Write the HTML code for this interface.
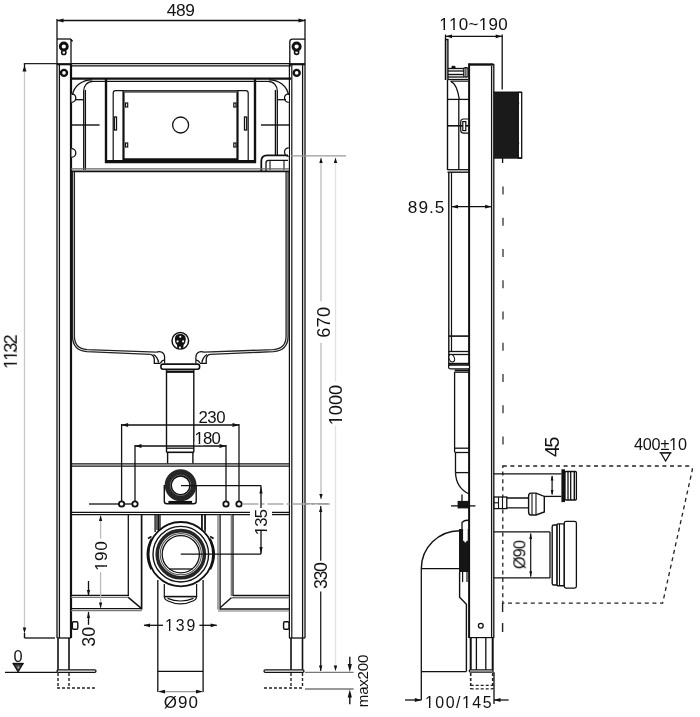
<!DOCTYPE html>
<html><head><meta charset="utf-8"><style>
html,body{margin:0;padding:0;background:#fff;}
svg{display:block;}
text{font-family:"Liberation Sans",sans-serif;}
</style></head><body>
<svg width="700" height="717" viewBox="0 0 700 717">
<rect width="700" height="717" fill="#fff"/>
<line x1="57" y1="19" x2="57" y2="39" stroke="#111" stroke-width="1.3" />
<line x1="305" y1="19" x2="305" y2="39" stroke="#111" stroke-width="1.3" />
<line x1="57" y1="20.5" x2="305" y2="20.5" stroke="#111" stroke-width="1.3" />
<polygon points="57,20.5 63.5,18.6 63.5,22.4" fill="#111"/>
<polygon points="305,20.5 298.5,18.6 298.5,22.4" fill="#111"/>
<line x1="23.8" y1="63.7" x2="57" y2="63.7" stroke="#222" stroke-width="1.3" />
<line x1="24.5" y1="71" x2="24.5" y2="630" stroke="#c8c8c8" stroke-width="1.3" />
<line x1="24.5" y1="63.7" x2="24.5" y2="70" stroke="#111" stroke-width="1.3" />
<polygon points="24.5,65.5 22.5,71.5 26.5,71.5" fill="#111"/>
<polygon points="24.5,633.5 22.8,627.5 26.2,627.5" fill="#111"/>
<line x1="24.5" y1="633" x2="24.5" y2="638" stroke="#111" stroke-width="1.4000000000000001" />
<line x1="24.5" y1="638" x2="55" y2="638" stroke="#222" stroke-width="1.4000000000000001" />
<line x1="57" y1="39" x2="71" y2="39" stroke="#111" stroke-width="1.3" />
<line x1="71" y1="39" x2="71" y2="64" stroke="#111" stroke-width="1.3" />
<line x1="71" y1="39.5" x2="72.5" y2="41.5" stroke="#111" stroke-width="1.4" />
<line x1="57" y1="64.2" x2="71" y2="64.2" stroke="#111" stroke-width="2.2" />
<circle cx="63.8" cy="52.4" r="2.1" stroke="#111" stroke-width="1.6" fill="#fff"/>
<circle cx="63.8" cy="46.5" r="3.5" stroke="#111" stroke-width="2.8" fill="#fff"/>
<circle cx="64" cy="72.9" r="3.0" stroke="#111" stroke-width="2.4" fill="none"/>
<path d="M289.8,64 L289.8,42 Q289.8,39.2 292.6,39.2 L305,39.2" stroke="#111" stroke-width="1.3" fill="none" />
<line x1="289.8" y1="64.2" x2="305" y2="64.2" stroke="#111" stroke-width="2.2" />
<circle cx="296.6" cy="52.3" r="2.1" stroke="#111" stroke-width="1.6" fill="#fff"/>
<circle cx="296.6" cy="46.6" r="3.6" stroke="#111" stroke-width="2.9" fill="#fff"/>
<circle cx="296.7" cy="72.9" r="3.0" stroke="#111" stroke-width="2.4" fill="none"/>
<line x1="57" y1="39" x2="57" y2="638" stroke="#111" stroke-width="1.3" />
<line x1="59.4" y1="64" x2="59.4" y2="638" stroke="#111" stroke-width="1.3" />
<line x1="71" y1="64" x2="71" y2="638" stroke="#111" stroke-width="2.2" />
<line x1="305" y1="39" x2="305" y2="638" stroke="#111" stroke-width="1.3" />
<line x1="302.6" y1="64" x2="302.6" y2="638" stroke="#111" stroke-width="1.3" />
<line x1="289.4" y1="64" x2="289.4" y2="638" stroke="#111" stroke-width="1.2" />
<line x1="291.8" y1="64" x2="291.8" y2="638" stroke="#111" stroke-width="1.2" />
<path d="M71.5,93.8 A4.3,4.3 0 0 1 71.5,102.4" stroke="#111" stroke-width="1.3" fill="#fff" />
<path d="M71.5,148.6 A4.3,4.3 0 0 1 71.5,157.2" stroke="#111" stroke-width="1.3" fill="#fff" />
<path d="M288.8,93.8 A4.3,4.3 0 0 0 288.8,102.4" stroke="#111" stroke-width="1.3" fill="#fff" />
<path d="M288.8,147.8 A4.3,4.3 0 0 0 288.8,156.4" stroke="#111" stroke-width="1.3" fill="#fff" />
<line x1="71" y1="63.7" x2="291" y2="63.7" stroke="#111" stroke-width="1.2" />
<line x1="71" y1="65.8" x2="291" y2="65.8" stroke="#111" stroke-width="1.2" />
<line x1="71" y1="78.6" x2="291" y2="78.6" stroke="#111" stroke-width="2.2" />
<line x1="92" y1="81.4" x2="106" y2="81.4" stroke="#111" stroke-width="1.2" />
<line x1="106" y1="81.4" x2="255" y2="81.4" stroke="#111" stroke-width="1.2" />
<line x1="255" y1="81.4" x2="268" y2="81.4" stroke="#111" stroke-width="1.2" />
<line x1="106" y1="78" x2="106" y2="163" stroke="#111" stroke-width="2.4" />
<line x1="255" y1="78" x2="255" y2="163" stroke="#111" stroke-width="2.4" />
<line x1="105" y1="161.7" x2="256" y2="161.7" stroke="#111" stroke-width="3.2" />
<path d="M113.2,161 L113.2,93 Q113.2,90.6 115.6,90.6 L245.8,90.6 Q248.2,90.6 248.2,93 L248.2,161" stroke="#111" stroke-width="1.2" fill="none" />
<line x1="123.5" y1="90.6" x2="123.5" y2="160" stroke="#111" stroke-width="2.2" />
<line x1="237.5" y1="90.6" x2="237.5" y2="160" stroke="#111" stroke-width="2.2" />
<line x1="123.5" y1="91.6" x2="237.5" y2="91.6" stroke="#555" stroke-width="2.4" />
<line x1="123" y1="159.6" x2="238" y2="159.6" stroke="#111" stroke-width="2.6" />
<rect x="125.5" y="103" width="2.2" height="4" rx="0" stroke="#111" stroke-width="1.2" fill="none"/>
<rect x="125.5" y="143" width="2.2" height="4" rx="0" stroke="#111" stroke-width="1.2" fill="none"/>
<rect x="233.8" y="103" width="2.2" height="4" rx="0" stroke="#111" stroke-width="1.2" fill="none"/>
<rect x="233.8" y="143" width="2.2" height="4" rx="0" stroke="#111" stroke-width="1.2" fill="none"/>
<rect x="114.3" y="117" width="2.2" height="13" rx="0" stroke="#111" stroke-width="1.3" fill="#fff"/>
<rect x="244.5" y="117" width="2.2" height="13" rx="0" stroke="#111" stroke-width="1.3" fill="#fff"/>
<circle cx="180.6" cy="125" r="8" stroke="#111" stroke-width="1.3" fill="none"/>
<path d="M92,79.8 C82,79.8 74,86 72.5,95" stroke="#111" stroke-width="1.3" fill="none" />
<path d="M93,81.4 C87,81.4 83.7,86 83.7,91 L83.7,170" stroke="#111" stroke-width="1.3" fill="none" />
<line x1="85.4" y1="90" x2="85.4" y2="170" stroke="#111" stroke-width="1.3" />
<line x1="75" y1="99.7" x2="83.7" y2="99.7" stroke="#111" stroke-width="1.3" />
<line x1="72" y1="125" x2="99.6" y2="125" stroke="#111" stroke-width="1.4" />
<path d="M269,79.8 C279,79.8 287,86 288.5,95" stroke="#111" stroke-width="1.3" fill="none" />
<path d="M268,81.4 C274,81.4 277.3,86 277.3,91 L277.3,155.4" stroke="#111" stroke-width="1.3" fill="none" />
<line x1="275.4" y1="90" x2="275.4" y2="155.4" stroke="#111" stroke-width="1.3" />
<line x1="277.3" y1="99.7" x2="286" y2="99.7" stroke="#111" stroke-width="1.3" />
<line x1="261" y1="125" x2="289" y2="125" stroke="#111" stroke-width="1.4" />
<path d="M261.3,171 L261.3,161 Q261.3,155.4 267,155.4 L288,155.4" stroke="#111" stroke-width="1.8" fill="none" />
<path d="M266,171 L266,163 Q266,160.4 268.5,160.4 L288,160.4" stroke="#111" stroke-width="1.3" fill="none" />
<line x1="270" y1="160.4" x2="270" y2="170" stroke="#111" stroke-width="1.1" />
<line x1="284" y1="160.4" x2="284" y2="170" stroke="#111" stroke-width="1.1" />
<line x1="71" y1="168.9" x2="289" y2="168.9" stroke="#666" stroke-width="1.3" />
<line x1="71" y1="171.4" x2="289" y2="171.4" stroke="#111" stroke-width="1.6" />
<path d="M72.5,171.4 L72.5,336 Q72.5,350.5 87,351.7 L150.4,354.3" stroke="#222" stroke-width="1.3" fill="none" />
<path d="M74.4,171.4 L74.4,336.3 Q74.4,348.6 87,349.6 L156.5,352.1" stroke="#222" stroke-width="1.3" fill="none" />
<path d="M288.1,171.4 L288.1,336 Q288.1,350.5 273.5,351.7 L210.1,354.3" stroke="#222" stroke-width="1.3" fill="none" />
<path d="M286.1,171.4 L286.1,336.3 Q286.1,348.6 273.5,349.6 L204,352.1" stroke="#222" stroke-width="1.3" fill="none" />
<path d="M150.4,354.3 Q154.3,355.3 154.3,359.5 L154.3,363.4 L160.5,363.4" stroke="#111" stroke-width="1.3" fill="none" />
<path d="M153.4,354.5 Q157.6,356.8 158.6,362.6" stroke="#111" stroke-width="1.4000000000000001" fill="none" />
<path d="M156.5,352.1 Q159.5,351.2 162,352.2 Q164.6,353.8 164.6,357 L164.6,363.2" stroke="#111" stroke-width="1.2" fill="none" />
<path d="M160.5,363 Q161.5,360.5 164.4,359.8" stroke="#111" stroke-width="1.3" fill="none" />
<g transform="translate(360.5,0) scale(-1,1)">
<path d="M150.4,354.3 Q154.3,355.3 154.3,359.5 L154.3,363.4 L160.5,363.4" stroke="#111" stroke-width="1.3" fill="none" />
<path d="M153.4,354.5 Q157.6,356.8 158.6,362.6" stroke="#111" stroke-width="1.4000000000000001" fill="none" />
<path d="M156.5,352.1 Q159.5,351.2 162,352.2 Q164.6,353.8 164.6,357 L164.6,363.2" stroke="#111" stroke-width="1.2" fill="none" />
<path d="M160.5,363 Q161.5,360.5 164.4,359.8" stroke="#111" stroke-width="1.3" fill="none" />
</g>
<circle cx="180.3" cy="340.8" r="8.3" stroke="#111" stroke-width="1.5" fill="none"/>
<path d="M174.8,339 Q175,334 180.3,334 Q185.6,334 185.8,339 Q185.8,343 183.6,345 L183.2,349 L177.4,349 L177,345 Q174.8,343 174.8,339 Z" stroke="#111" stroke-width="0" fill="#111" />
<circle cx="180.3" cy="336.8" r="1.05" stroke="#fff" stroke-width="0" fill="#fff"/>
<circle cx="177.6" cy="341.4" r="1.05" stroke="#fff" stroke-width="0" fill="#fff"/>
<circle cx="183.1" cy="341.4" r="1.05" stroke="#fff" stroke-width="0" fill="#fff"/>
<circle cx="180" cy="347.6" r="1.05" stroke="#fff" stroke-width="0" fill="#fff"/>
<rect x="160.9" y="364.1" width="38.7" height="5.2" rx="2.2" stroke="#111" stroke-width="1.6" fill="#fff"/>
<line x1="166.5" y1="371.7" x2="193.8" y2="371.7" stroke="#111" stroke-width="2.4" />
<line x1="166.5" y1="370" x2="166.5" y2="452.3" stroke="#111" stroke-width="1.4000000000000001" />
<line x1="193.8" y1="370" x2="193.8" y2="452.3" stroke="#111" stroke-width="1.4000000000000001" />
<line x1="166.5" y1="448.2" x2="193.8" y2="448.2" stroke="#111" stroke-width="1.3" />
<line x1="166.5" y1="452.3" x2="193.8" y2="452.3" stroke="#111" stroke-width="1.6" />
<line x1="167.6" y1="452.3" x2="167.6" y2="463.4" stroke="#111" stroke-width="1.4000000000000001" />
<line x1="192.9" y1="452.3" x2="192.9" y2="463.4" stroke="#111" stroke-width="1.4000000000000001" />
<line x1="121.6" y1="425" x2="239" y2="425" stroke="#111" stroke-width="1.3" />
<polygon points="121.6,425 128.1,423.1 128.1,426.9" fill="#111"/>
<polygon points="239,425 232.5,423.1 232.5,426.9" fill="#111"/>
<line x1="121.6" y1="424" x2="121.6" y2="501" stroke="#111" stroke-width="1.3" />
<line x1="239" y1="424" x2="239" y2="501" stroke="#111" stroke-width="1.3" />
<line x1="135" y1="446" x2="226" y2="446" stroke="#111" stroke-width="1.3" />
<polygon points="135,446 141.5,444.1 141.5,447.9" fill="#111"/>
<polygon points="226,446 219.5,444.1 219.5,447.9" fill="#111"/>
<line x1="135" y1="445" x2="135" y2="501" stroke="#111" stroke-width="1.3" />
<line x1="226" y1="445" x2="226" y2="501" stroke="#111" stroke-width="1.3" />
<line x1="71" y1="463.8" x2="289" y2="463.8" stroke="#111" stroke-width="1.3" />
<line x1="71" y1="466.2" x2="289" y2="466.2" stroke="#111" stroke-width="1.3" />
<circle cx="121.6" cy="504" r="2.7" stroke="#111" stroke-width="1.8" fill="#fff"/>
<circle cx="135" cy="504" r="2.7" stroke="#111" stroke-width="1.8" fill="#fff"/>
<circle cx="226" cy="504" r="2.7" stroke="#111" stroke-width="1.8" fill="#fff"/>
<circle cx="239" cy="504" r="2.7" stroke="#111" stroke-width="1.8" fill="#fff"/>
<line x1="89" y1="504" x2="118.8" y2="504" stroke="#111" stroke-width="1.3" />
<line x1="124.4" y1="504" x2="132.2" y2="504" stroke="#111" stroke-width="1.3" />
<line x1="242.5" y1="504" x2="330" y2="504" stroke="#aaa" stroke-width="1.3" stroke-dasharray="16,3,3,3"/>
<path d="M164.3,485 L164.3,501.3 Q164.3,503.8 166.8,503.8 L193.7,503.8 Q196.2,503.8 196.2,501.3 L196.2,485" stroke="#111" stroke-width="1.4000000000000001" fill="none" />
<line x1="168.4" y1="502" x2="192.1" y2="502" stroke="#111" stroke-width="2.2" />
<circle cx="180.6" cy="485.3" r="12.5" stroke="#262626" stroke-width="6.9" fill="none"/>
<circle cx="180.6" cy="485.3" r="10.2" stroke="#777" stroke-width="1.0" fill="none"/>
<circle cx="180.6" cy="485.3" r="9.3" stroke="#111" stroke-width="1.3" fill="none"/>
<line x1="181" y1="485.6" x2="261" y2="485.6" stroke="#111" stroke-width="1.3" />
<line x1="261" y1="485.6" x2="261" y2="508" stroke="#111" stroke-width="1.3" />
<polygon points="261,486.5 259.4,493.5 262.6,493.5" fill="#111"/>
<line x1="261" y1="531" x2="261" y2="554" stroke="#111" stroke-width="1.3" />
<polygon points="261,554 259.4,547 262.6,547" fill="#111"/>
<line x1="71" y1="512.4" x2="250" y2="512.4" stroke="#111" stroke-width="1.3" />
<line x1="71" y1="514.6" x2="250" y2="514.6" stroke="#111" stroke-width="1.3" />
<line x1="272" y1="512.4" x2="289" y2="512.4" stroke="#111" stroke-width="1.3" />
<line x1="272" y1="514.6" x2="289" y2="514.6" stroke="#111" stroke-width="1.3" />
<line x1="128.3" y1="514.6" x2="128.3" y2="596.3" stroke="#111" stroke-width="1.3" />
<line x1="141.6" y1="514.6" x2="141.6" y2="609.5" stroke="#111" stroke-width="1.7" />
<line x1="71" y1="595.3" x2="128.3" y2="595.3" stroke="#111" stroke-width="1.3" />
<line x1="71" y1="597.4" x2="128.3" y2="597.4" stroke="#777" stroke-width="1.4000000000000001" />
<line x1="128.3" y1="597.4" x2="141.6" y2="608.6" stroke="#111" stroke-width="1.4000000000000001" />
<line x1="71" y1="608.6" x2="141.6" y2="608.6" stroke="#111" stroke-width="1.3" />
<line x1="71" y1="610.7" x2="141.6" y2="610.7" stroke="#777" stroke-width="1.2" />
<line x1="218" y1="514.6" x2="218" y2="609.8" stroke="#777" stroke-width="1.3" />
<line x1="220.1" y1="514.6" x2="220.1" y2="609.8" stroke="#111" stroke-width="1.3" />
<line x1="231.3" y1="514.6" x2="231.3" y2="596.1" stroke="#777" stroke-width="1.3" />
<line x1="233" y1="514.6" x2="233" y2="596.1" stroke="#111" stroke-width="1.3" />
<line x1="233" y1="595.5" x2="289.4" y2="595.5" stroke="#111" stroke-width="1.3" />
<line x1="231.3" y1="597.8" x2="289.4" y2="597.8" stroke="#777" stroke-width="1.4000000000000001" />
<line x1="231.3" y1="597.8" x2="220.1" y2="607.7" stroke="#111" stroke-width="1.4000000000000001" />
<line x1="220.1" y1="609" x2="289.4" y2="609" stroke="#111" stroke-width="1.3" />
<line x1="218" y1="611" x2="289.4" y2="611" stroke="#777" stroke-width="1.2" />
<line x1="157" y1="514.6" x2="157" y2="530" stroke="#111" stroke-width="1.3" />
<line x1="160" y1="514.6" x2="160" y2="530" stroke="#111" stroke-width="1.3" />
<line x1="202" y1="514.6" x2="202" y2="530" stroke="#111" stroke-width="1.3" />
<line x1="205" y1="514.6" x2="205" y2="530" stroke="#111" stroke-width="1.3" />
<line x1="155.1" y1="514.6" x2="155.1" y2="532" stroke="#111" stroke-width="1.3" />
<line x1="158.5" y1="514.6" x2="158.5" y2="532" stroke="#111" stroke-width="1.3" />
<line x1="201.8" y1="514.6" x2="201.8" y2="532" stroke="#111" stroke-width="1.3" />
<line x1="205.1" y1="514.6" x2="205.1" y2="532" stroke="#111" stroke-width="1.3" />
<path d="M151.75,538.75 A32.9,32.9 0 0 0 151.49,569.14 M209.85,538.75 A32.9,32.9 0 0 1 210.11,569.14" stroke="#111" stroke-width="2.2" fill="none" />
<path d="M148,538.5 L151.5,536.5 M213.6,538.5 L210.1,536.5" stroke="#111" stroke-width="1.6" fill="none" />
<circle cx="180.8" cy="554.2" r="32.2" stroke="#111" stroke-width="1.8" fill="#fff"/>
<circle cx="180.8" cy="554.2" r="27.8" stroke="#111" stroke-width="1.4000000000000001" fill="none"/>
<circle cx="180.8" cy="554.2" r="23.6" stroke="#262626" stroke-width="3.6" fill="none"/>
<circle cx="180.8" cy="554.2" r="20.6" stroke="#555" stroke-width="1.1" fill="none"/>
<circle cx="180.8" cy="554.2" r="18.6" stroke="#111" stroke-width="1.3" fill="none"/>
<line x1="169" y1="569" x2="192.6" y2="569" stroke="#111" stroke-width="1.3" />
<line x1="180.8" y1="554.2" x2="261" y2="554.2" stroke="#111" stroke-width="1.3" />
<path d="M164.3,584 L164.3,597 M196.6,584 L196.6,597" stroke="#111" stroke-width="1.2" fill="none" />
<line x1="165" y1="596.6" x2="196" y2="596.6" stroke="#111" stroke-width="1.6" />
<path d="M164.3,596.6 Q164.3,599.6 168,601 Q180.5,606.8 193,601 Q196.6,599.6 196.6,596.6" stroke="#111" stroke-width="1.2" fill="none" />
<path d="M167.5,598.4 Q180.5,603.6 193.5,598.4" stroke="#111" stroke-width="1.2" fill="none" />
<line x1="157.8" y1="580" x2="157.8" y2="692" stroke="#111" stroke-width="1.3" />
<line x1="203.1" y1="580" x2="203.1" y2="692" stroke="#111" stroke-width="1.3" />
<line x1="100.6" y1="515" x2="100.6" y2="538.7" stroke="#bbb" stroke-width="1.3" />
<line x1="100.6" y1="572.2" x2="100.6" y2="608" stroke="#bbb" stroke-width="1.3" />
<polygon points="100.6,515 99.0,521 102.19999999999999,521" fill="#111"/>
<polygon points="100.6,608.6 99.0,602.6 102.19999999999999,602.6" fill="#111"/>
<line x1="88.5" y1="581" x2="88.5" y2="596" stroke="#111" stroke-width="1.3" />
<polygon points="88.5,596 86.9,590 90.1,590" fill="#111"/>
<line x1="88.5" y1="611.9" x2="88.5" y2="624.8" stroke="#111" stroke-width="1.3" />
<polygon points="88.5,611.9 86.9,617.9 90.1,617.9" fill="#111"/>
<rect x="72.4" y="621.8" width="5.4" height="7.4" rx="1.2" stroke="#111" stroke-width="1.4000000000000001" fill="#fff"/>
<rect x="283.6" y="621.8" width="5.4" height="7.4" rx="1.2" stroke="#111" stroke-width="1.4000000000000001" fill="#fff"/>
<line x1="58" y1="638" x2="58" y2="670" stroke="#111" stroke-width="1.6" />
<line x1="69" y1="638" x2="69" y2="670" stroke="#111" stroke-width="1.6" />
<line x1="57" y1="638" x2="71" y2="638" stroke="#111" stroke-width="1.3" />
<line x1="291" y1="638" x2="291" y2="670" stroke="#111" stroke-width="1.6" />
<line x1="302.5" y1="638" x2="302.5" y2="670" stroke="#111" stroke-width="1.6" />
<line x1="289" y1="638" x2="305" y2="638" stroke="#111" stroke-width="1.3" />
<rect x="57" y="669.8" width="39" height="2.6" rx="1.3" stroke="#111" stroke-width="1.3" fill="#fff"/>
<rect x="264" y="669.8" width="40" height="2.6" rx="1.3" stroke="#111" stroke-width="1.3" fill="#fff"/>
<line x1="58" y1="673" x2="58" y2="688" stroke="#222" stroke-width="1.4" stroke-dasharray="3,2"/>
<line x1="69" y1="673" x2="69" y2="688" stroke="#222" stroke-width="1.4" stroke-dasharray="3,2"/>
<line x1="291" y1="673" x2="291" y2="688" stroke="#222" stroke-width="1.4" stroke-dasharray="3,2"/>
<line x1="302.5" y1="673" x2="302.5" y2="688" stroke="#222" stroke-width="1.4" stroke-dasharray="3,2"/>
<line x1="57" y1="688" x2="96" y2="688" stroke="#222" stroke-width="1.4" stroke-dasharray="3,2"/>
<line x1="264" y1="688" x2="304" y2="688" stroke="#222" stroke-width="1.4" stroke-dasharray="3,2"/>
<line x1="5" y1="672.4" x2="57" y2="672.4" stroke="#111" stroke-width="1.3" />
<path d="M13.3,663.6 L22.9,663.6 L18.1,671.8 Z" stroke="#111" stroke-width="1.3" fill="#444" />
<line x1="12.9" y1="663.6" x2="23.3" y2="663.6" stroke="#111" stroke-width="1.6" />
<circle cx="18.4" cy="667.5" r="1.0" stroke="#fff" stroke-width="0" fill="#bbb"/>
<line x1="157.8" y1="671.4" x2="203.1" y2="671.4" stroke="#111" stroke-width="1.2" />
<line x1="157.8" y1="691.6" x2="203.1" y2="691.6" stroke="#999" stroke-width="1.2" />
<polygon points="158,691.6 165,689.8000000000001 165,693.4" fill="#111"/>
<polygon points="203,691.6 196,689.8000000000001 196,693.4" fill="#111"/>
<line x1="144" y1="625.3" x2="163" y2="625.3" stroke="#111" stroke-width="1.3" />
<line x1="199.4" y1="625.3" x2="216.8" y2="625.3" stroke="#111" stroke-width="1.3" />
<polygon points="143.5,625.3 150.0,623.4 150.0,627.1999999999999" fill="#111"/>
<polygon points="217.2,625.3 210.7,623.4 210.7,627.1999999999999" fill="#111"/>
<line x1="291" y1="155.9" x2="346" y2="155.9" stroke="#999" stroke-width="1.3" />
<line x1="321" y1="158" x2="321" y2="301.3" stroke="#bbb" stroke-width="1.3" />
<line x1="321" y1="342.8" x2="321" y2="499" stroke="#bbb" stroke-width="1.3" />
<polygon points="321,157.5 319.3,163.0 322.7,163.0" fill="#111"/>
<polygon points="321,499.6 319.3,494.1 322.7,494.1" fill="#111"/>
<line x1="335.5" y1="158" x2="335.5" y2="381.7" stroke="#e2e2e2" stroke-width="1.3" />
<line x1="335.5" y1="425.7" x2="335.5" y2="671" stroke="#e2e2e2" stroke-width="1.3" />
<polygon points="335.5,157.5 333.8,163.0 337.2,163.0" fill="#111"/>
<polygon points="335.5,671 333.8,665.5 337.2,665.5" fill="#111"/>
<line x1="305" y1="503.8" x2="328" y2="503.8" stroke="#999" stroke-width="1.3" />
<line x1="320.7" y1="506" x2="320.7" y2="560.7" stroke="#222" stroke-width="1.3" />
<line x1="320.7" y1="591.4" x2="320.7" y2="671" stroke="#222" stroke-width="1.3" />
<polygon points="320.7,506.5 319.0,512.0 322.4,512.0" fill="#111"/>
<polygon points="320.7,671 319.0,665.5 322.4,665.5" fill="#111"/>
<line x1="305" y1="672.3" x2="353.6" y2="672.3" stroke="#777" stroke-width="1.3" />
<line x1="305" y1="689" x2="353.6" y2="689" stroke="#777" stroke-width="1.3" />
<line x1="349.8" y1="656.7" x2="349.8" y2="668" stroke="#111" stroke-width="1.4000000000000001" />
<polygon points="349.8,672 347.7,664 351.90000000000003,664" fill="#111"/>
<line x1="349.8" y1="693" x2="349.8" y2="704.3" stroke="#111" stroke-width="1.4000000000000001" />
<polygon points="349.8,689.4 347.7,697.4 351.90000000000003,697.4" fill="#111"/>
<line x1="445.5" y1="34.5" x2="445.5" y2="80" stroke="#111" stroke-width="1.3" />
<line x1="502.2" y1="34.5" x2="502.2" y2="89.5" stroke="#111" stroke-width="1.3" />
<line x1="445.5" y1="36.3" x2="502.2" y2="36.3" stroke="#111" stroke-width="1.3" />
<polygon points="445.5,36.3 452.0,34.4 452.0,38.199999999999996" fill="#111"/>
<polygon points="502.2,36.3 495.7,34.4 495.7,38.199999999999996" fill="#111"/>
<path d="M445.6,80 L445.6,39.5 L447.9,39.5 L447.9,80" stroke="#111" stroke-width="1.4000000000000001" fill="none" />
<line x1="468.5" y1="64.5" x2="493.5" y2="64.5" stroke="#111" stroke-width="2.4" />
<line x1="469.1" y1="63.5" x2="469.1" y2="638" stroke="#111" stroke-width="2.0" />
<line x1="491.6" y1="66" x2="491.6" y2="638" stroke="#111" stroke-width="1.3" />
<line x1="493.8" y1="64" x2="493.8" y2="638" stroke="#111" stroke-width="1.3" />
<line x1="447.9" y1="68.5" x2="464" y2="68.5" stroke="#111" stroke-width="1.3" />
<line x1="447.9" y1="71" x2="464" y2="71" stroke="#111" stroke-width="1.3" />
<line x1="447.9" y1="74.5" x2="464" y2="74.5" stroke="#111" stroke-width="1.4" />
<line x1="447.9" y1="77" x2="464" y2="77" stroke="#111" stroke-width="1.3" />
<rect x="463.8" y="67.6" width="4.2" height="9.6" rx="1.5" stroke="#111" stroke-width="1.3" fill="#fff"/>
<line x1="465.9" y1="68" x2="465.9" y2="77" stroke="#111" stroke-width="1.1" />
<rect x="452" y="66.2" width="3" height="2" rx="0.8" stroke="#111" stroke-width="1.1" fill="#111"/>
<line x1="447.9" y1="79.5" x2="468" y2="79.5" stroke="#111" stroke-width="1.3" />
<line x1="451" y1="81.2" x2="468" y2="81.2" stroke="#111" stroke-width="1.1" />
<path d="M450.5,81.2 Q457,84 459.3,99.4" stroke="#111" stroke-width="1.3" fill="none" />
<line x1="447.5" y1="80" x2="447.5" y2="170" stroke="#111" stroke-width="1.4000000000000001" />
<line x1="458.8" y1="99.4" x2="458.8" y2="170" stroke="#111" stroke-width="1.3" />
<line x1="447.5" y1="99.4" x2="469" y2="99.4" stroke="#111" stroke-width="1.3" />
<line x1="447.5" y1="125.8" x2="469" y2="125.8" stroke="#111" stroke-width="1.6" />
<path d="M469,119 L463.5,119 Q460.7,119 460.7,122 L460.7,130 Q460.7,133.2 463.5,133.2 L469,133.2" stroke="#111" stroke-width="1.2" fill="none" />
<rect x="462.8" y="121.6" width="3" height="9" rx="0" stroke="#111" stroke-width="1.2" fill="#fff"/>
<line x1="447.5" y1="169.7" x2="469" y2="169.7" stroke="#111" stroke-width="1.3" />
<line x1="447.5" y1="172.2" x2="469" y2="172.2" stroke="#111" stroke-width="1.4" />
<rect x="493.8" y="91.9" width="24.5" height="66" rx="0" stroke="#111" stroke-width="0" fill="#1a1a1a"/>
<rect x="518.3" y="92.4" width="3.4" height="65.8" rx="0" stroke="#111" stroke-width="1.3" fill="#fff"/>
<line x1="493.8" y1="92.3" x2="521.7" y2="92.3" stroke="#111" stroke-width="1.4" />
<line x1="493.8" y1="158" x2="521.7" y2="158" stroke="#111" stroke-width="1.4" />
<path d="M518.3,100.5 Q520.2,103.5 518.3,106.5 Z M518.3,140.5 Q520.2,143.5 518.3,146.5 Z" stroke="#111" stroke-width="0" fill="#1a1a1a" />
<line x1="502.6" y1="158" x2="502.6" y2="163" stroke="#111" stroke-width="1.3" />
<line x1="448.8" y1="172.2" x2="448.8" y2="368" stroke="#111" stroke-width="1.4000000000000001" />
<line x1="451.5" y1="172.2" x2="451.5" y2="352" stroke="#111" stroke-width="1.2" />
<line x1="448.8" y1="336.1" x2="469" y2="336.1" stroke="#111" stroke-width="1.6" />
<line x1="448.8" y1="351.5" x2="469" y2="351.5" stroke="#111" stroke-width="1.3" />
<line x1="448.8" y1="354.5" x2="469" y2="354.5" stroke="#111" stroke-width="1.3" />
<ellipse cx="451.8" cy="358.2" rx="2.6" ry="3.8" stroke="#111" stroke-width="1" fill="#fff" transform="rotate(-20 451.8 358.2)"/>
<line x1="448.8" y1="363.8" x2="469" y2="363.8" stroke="#111" stroke-width="2.0" />
<rect x="448.6" y="365.2" width="21" height="3.6" rx="1.5" stroke="#111" stroke-width="1.2" fill="#fff"/>
<line x1="454.6" y1="370.4" x2="469" y2="370.4" stroke="#111" stroke-width="1.8" />
<line x1="454.6" y1="372.2" x2="469" y2="372.2" stroke="#111" stroke-width="1.3" />
<line x1="451.5" y1="206.7" x2="491.6" y2="206.7" stroke="#111" stroke-width="1.3" />
<polygon points="451.5,206.7 458.0,204.79999999999998 458.0,208.6" fill="#111"/>
<polygon points="491.6,206.7 485.1,204.79999999999998 485.1,208.6" fill="#111"/>
<line x1="454.6" y1="372" x2="454.6" y2="452" stroke="#111" stroke-width="1.3" />
<line x1="454.6" y1="448.2" x2="469" y2="448.2" stroke="#111" stroke-width="1.3" />
<line x1="454.6" y1="452.5" x2="469" y2="452.5" stroke="#111" stroke-width="1.3" />
<line x1="455.5" y1="452.5" x2="455.5" y2="472.6" stroke="#111" stroke-width="1.3" />
<line x1="455.5" y1="472.6" x2="469" y2="472.6" stroke="#111" stroke-width="1.3" />
<path d="M455.5,472.6 Q456,488 469,494" stroke="#111" stroke-width="1.3" fill="none" />
<rect x="457.6" y="500.9" width="11.4" height="7.5" rx="0" stroke="#111" stroke-width="0" fill="#151515"/>
<line x1="451" y1="505.9" x2="475.5" y2="505.9" stroke="#111" stroke-width="1.3" />
<line x1="462" y1="494.6" x2="462" y2="501" stroke="#111" stroke-width="1.3" />
<rect x="459" y="529" width="10.3" height="43" rx="0" stroke="#111" stroke-width="0" fill="#151515"/>
<rect x="463.6" y="529.5" width="3.6" height="11" rx="0" stroke="#fff" stroke-width="0.8999999999999999" fill="#fff"/>
<path d="M462,529 L462,522.5 Q465,519.5 469,520.5" stroke="#111" stroke-width="1.3" fill="none" />
<circle cx="465.3" cy="541.5" r="1" stroke="#fff" stroke-width="0" fill="#fff"/>
<line x1="462.6" y1="572" x2="462.6" y2="582" stroke="#111" stroke-width="1.2" />
<line x1="467" y1="572" x2="467" y2="582" stroke="#111" stroke-width="1.2" />
<path d="M421.3,568.7 A38.3,38 0 0 1 459.6,530.7" stroke="#111" stroke-width="1.4000000000000001" fill="none" />
<line x1="421.3" y1="568.7" x2="459.6" y2="568.7" stroke="#111" stroke-width="1.3" />
<line x1="421.3" y1="568.7" x2="421.3" y2="700" stroke="#111" stroke-width="1.3" />
<path d="M459.6,572 L459.6,597.2 L466.4,604.2 L466.4,671.6" stroke="#111" stroke-width="1.4000000000000001" fill="none" />
<line x1="421.3" y1="671.6" x2="466.4" y2="671.6" stroke="#111" stroke-width="1.3" />
<line x1="469" y1="637.6" x2="493.8" y2="637.6" stroke="#111" stroke-width="1.2" />
<circle cx="480.8" cy="625.7" r="2.4" stroke="#111" stroke-width="1.3" fill="none"/>
<line x1="470.7" y1="637.6" x2="470.7" y2="670" stroke="#111" stroke-width="2.0" />
<line x1="492.7" y1="637.6" x2="492.7" y2="670" stroke="#111" stroke-width="2.0" />
<line x1="476.4" y1="637.6" x2="476.4" y2="670" stroke="#111" stroke-width="1.3" />
<line x1="485.8" y1="637.6" x2="485.8" y2="670" stroke="#111" stroke-width="1.3" />
<rect x="469.2" y="669.8" width="24" height="2.4" rx="1.2" stroke="#111" stroke-width="1.2" fill="#fff"/>
<line x1="470.7" y1="673" x2="470.7" y2="689" stroke="#222" stroke-width="1.6" stroke-dasharray="3,2"/>
<line x1="492.7" y1="673" x2="492.7" y2="689" stroke="#222" stroke-width="1.6" stroke-dasharray="3,2"/>
<line x1="470.7" y1="685.4" x2="492.7" y2="685.4" stroke="#222" stroke-width="1.3" stroke-dasharray="3,2"/>
<line x1="470.7" y1="688.9" x2="492.7" y2="688.9" stroke="#222" stroke-width="1.3" stroke-dasharray="3,2"/>
<line x1="494" y1="672" x2="494" y2="704" stroke="#111" stroke-width="1.3" />
<line x1="405" y1="700" x2="421.3" y2="700" stroke="#111" stroke-width="1.3" />
<polygon points="421.3,700 414.8,698.1 414.8,701.9" fill="#111"/>
<line x1="494" y1="700" x2="508.6" y2="700" stroke="#111" stroke-width="1.3" />
<polygon points="494,700 500.5,698.1 500.5,701.9" fill="#111"/>
<line x1="503" y1="186.4" x2="503" y2="452" stroke="#222" stroke-width="1.2" stroke-dasharray="8,23.25"/>
<line x1="502.6" y1="603" x2="502.6" y2="640" stroke="#222" stroke-width="1.4000000000000001" stroke-dasharray="9,11" stroke-dashoffset="0"/>
<path d="M502.8,466 L688,466 Q691.5,466 692.4,469.5 L662.6,603.2 L502.8,603.2 Z" stroke="#222" stroke-width="1.3" fill="none" stroke-dasharray="4,3.6"/>
<path d="M661,453 L670.3,453 L665.6,461 Z" stroke="#111" stroke-width="1.2" fill="none" />
<line x1="659.5" y1="452.8" x2="671.5" y2="452.8" stroke="#111" stroke-width="1.2" />
<line x1="493.8" y1="473.9" x2="561.4" y2="473.9" stroke="#111" stroke-width="1.3" />
<line x1="544.3" y1="496.4" x2="561.4" y2="496.4" stroke="#111" stroke-width="1.3" />
<line x1="493.8" y1="531.9" x2="550" y2="531.9" stroke="#111" stroke-width="1.3" />
<line x1="493.8" y1="577.9" x2="550" y2="577.9" stroke="#111" stroke-width="1.3" />
<rect x="561.4" y="469.3" width="3.6" height="32.8" rx="0" stroke="#111" stroke-width="0" fill="#111"/>
<rect x="565" y="471.5" width="11.4" height="28.5" rx="1" stroke="#111" stroke-width="1.3" fill="#fff"/>
<line x1="568" y1="471.5" x2="568" y2="500" stroke="#111" stroke-width="1.3" />
<line x1="570.7" y1="471.5" x2="570.7" y2="500" stroke="#111" stroke-width="1.3" />
<line x1="574.3" y1="471.5" x2="574.3" y2="500" stroke="#111" stroke-width="1.4" />
<line x1="552.1" y1="476" x2="552.1" y2="494.5" stroke="#111" stroke-width="1.2" />
<polygon points="552.1,475.5 550.7,480.5 553.5,480.5" fill="#111"/>
<polygon points="552.1,495 550.7,490 553.5,490" fill="#111"/>
<rect x="494" y="497" width="12.8" height="11.6" rx="0" stroke="#111" stroke-width="1.3" fill="#fff"/>
<line x1="498.5" y1="497" x2="498.5" y2="508.6" stroke="#111" stroke-width="1.1" />
<line x1="502.5" y1="497" x2="502.5" y2="508.6" stroke="#111" stroke-width="1.1" />
<line x1="494" y1="502.8" x2="498.5" y2="502.8" stroke="#111" stroke-width="1.1" />
<path d="M506.8,498 L528.6,498 M506.8,507.9 L528.6,507.9" stroke="#111" stroke-width="1.3" fill="none" />
<path d="M528.6,496 Q528.6,493.1 531,493.1 L536,493.1 L544.3,496.4 L544.3,512 L536,515 L531,515 Q528.6,515 528.6,512 Z" stroke="#111" stroke-width="1.4000000000000001" fill="#fff" />
<line x1="532" y1="493.3" x2="532" y2="514.8" stroke="#111" stroke-width="1.1" />
<line x1="536" y1="493.3" x2="536" y2="514.8" stroke="#111" stroke-width="1.1" />
<line x1="550" y1="531.9" x2="550" y2="577.9" stroke="#111" stroke-width="1.3" />
<path d="M552.2,526.5 Q552.2,525 554,525 L557.1,525 L557.1,585 L554,585 Q552.2,585 552.2,583.5 Z" stroke="#111" stroke-width="1.4000000000000001" fill="#fff" />
<rect x="557.1" y="523.9" width="7.2" height="61.8" rx="0.8" stroke="#111" stroke-width="1.4000000000000001" fill="#fff"/>
<line x1="559.5" y1="524" x2="559.5" y2="585.6" stroke="#111" stroke-width="1.1" />
<rect x="564.3" y="521.4" width="12.1" height="66.7" rx="1.8" stroke="#111" stroke-width="1.3" fill="#fff"/>
<line x1="530.7" y1="533.5" x2="530.7" y2="576.5" stroke="#111" stroke-width="1.2" />
<polygon points="530.7,533 529.3000000000001,539 532.1,539" fill="#111"/>
<polygon points="530.7,577.3 529.3000000000001,571.3 532.1,571.3" fill="#111"/>
<g opacity="0.995"><g transform="translate(166.80,16.33)"><text x="0.00 9.18 18.36" y="0" font-size="17.37" fill="#111">489</text></g>
<g transform="translate(439.27,30.13)"><text x="0.00 9.77 19.53 29.30 39.53 49.30 59.07" y="0" font-size="16.95" fill="#111">110~190</text><rect x="0.22" y="-2.27" width="3.98" height="3.77" fill="#fff"/><rect x="5.83" y="-2.27" width="3.85" height="3.77" fill="#fff"/><rect x="9.98" y="-2.27" width="3.98" height="3.77" fill="#fff"/><rect x="15.59" y="-2.27" width="3.85" height="3.77" fill="#fff"/><rect x="39.75" y="-2.27" width="3.98" height="3.77" fill="#fff"/><rect x="45.36" y="-2.27" width="3.85" height="3.77" fill="#fff"/></g>
<g transform="translate(407.85,212.73)"><text x="0.00 10.56 21.12 26.89" y="0" font-size="17.23" fill="#111">89.5</text></g>
<g transform="translate(16.82,368.95) rotate(-90)"><text x="0.00 8.15 16.29 24.44" y="0" font-size="18.22" fill="#111">1132</text><rect x="0.23" y="-2.36" width="4.28" height="3.86" fill="#fff"/><rect x="6.26" y="-2.36" width="4.14" height="3.86" fill="#fff"/><rect x="8.38" y="-2.36" width="4.28" height="3.86" fill="#fff"/><rect x="14.41" y="-2.36" width="2.28" height="3.86" fill="#fff"/></g>
<g transform="translate(330.02,337.83) rotate(-90)"><text x="0.00 10.40 20.80" y="0" font-size="18.22" fill="#111">670</text></g>
<g transform="translate(341.82,425.35) rotate(-90)"><text x="0.00 10.14 20.29 30.43" y="0" font-size="18.22" fill="#111">1000</text><rect x="0.23" y="-2.36" width="4.28" height="3.86" fill="#fff"/><rect x="6.26" y="-2.36" width="4.14" height="3.86" fill="#fff"/></g>
<g transform="translate(198.45,423.14)"><text x="0.00 8.93 17.85" y="0" font-size="16.81" fill="#111">230</text></g>
<g transform="translate(194.48,443.74)"><text x="0.00 8.51 17.03" y="0" font-size="16.81" fill="#111">180</text><rect x="0.21" y="-2.26" width="3.95" height="3.76" fill="#fff"/><rect x="5.78" y="-2.26" width="3.17" height="3.76" fill="#fff"/></g>
<g transform="translate(267.24,535.30) rotate(-90)"><text x="0.00 8.52 17.03" y="0" font-size="16.67" fill="#111">135</text><rect x="0.21" y="-2.25" width="3.91" height="3.75" fill="#fff"/><rect x="5.73" y="-2.25" width="3.12" height="3.75" fill="#fff"/></g>
<g transform="translate(106.63,571.06) rotate(-90)"><text x="0.00 10.12 20.25" y="0" font-size="17.23" fill="#111">190</text><rect x="0.22" y="-2.29" width="4.05" height="3.79" fill="#fff"/><rect x="5.92" y="-2.29" width="3.91" height="3.79" fill="#fff"/></g>
<g transform="translate(94.93,646.78) rotate(-90)"><text x="0.00 9.98" y="0" font-size="17.80" fill="#111">30</text></g>
<g transform="translate(13.59,661.64)"><text x="0.00" y="0" font-size="16.38" fill="#111">0</text></g>
<g transform="translate(163.81,707.96)"><text x="0.00 14.24 24.70" y="0" font-size="16.99" fill="#111">Ø90</text></g>
<g transform="translate(164.98,630.75)"><text x="0.00 10.74 21.47" y="0" font-size="15.82" fill="#111">139</text><rect x="0.20" y="-2.18" width="3.72" height="3.68" fill="#fff"/><rect x="5.44" y="-2.18" width="3.59" height="3.68" fill="#fff"/></g>
<g transform="translate(327.13,588.98) rotate(-90)"><text x="0.00 8.44 16.88" y="0" font-size="17.80" fill="#111">330</text></g>
<g transform="translate(368.35,707.20) rotate(-90)"><text x="0.00 12.33 20.49 27.79 35.94 44.09" y="0" font-size="15.11" fill="#111">max200</text></g>
<g transform="translate(559.30,457.06) rotate(-90)"><text x="0.00 9.37" y="0" font-size="20.21" fill="#111">45</text></g>
<g transform="translate(633.93,449.54)"><text x="0.00 8.82 17.64 26.46 35.16 43.97" y="0" font-size="16.24" fill="#111">400±10</text><rect x="35.36" y="-2.21" width="3.81" height="3.71" fill="#fff"/><rect x="40.74" y="-2.21" width="3.57" height="3.71" fill="#fff"/></g>
<g transform="translate(424.97,707.84)"><text x="0.00 10.36 20.73 31.09 37.02 47.38 57.74" y="0" font-size="15.93" fill="#111">100/145</text><rect x="0.20" y="-2.19" width="3.74" height="3.69" fill="#fff"/><rect x="5.48" y="-2.19" width="3.62" height="3.69" fill="#fff"/><rect x="37.22" y="-2.19" width="3.74" height="3.69" fill="#fff"/><rect x="42.49" y="-2.19" width="3.62" height="3.69" fill="#fff"/></g>
<g transform="translate(525.28,569.17) rotate(-90)"><text x="0.00 11.82 20.03" y="0" font-size="16.31" fill="#111">Ø90</text></g></g>
</svg></body></html>
